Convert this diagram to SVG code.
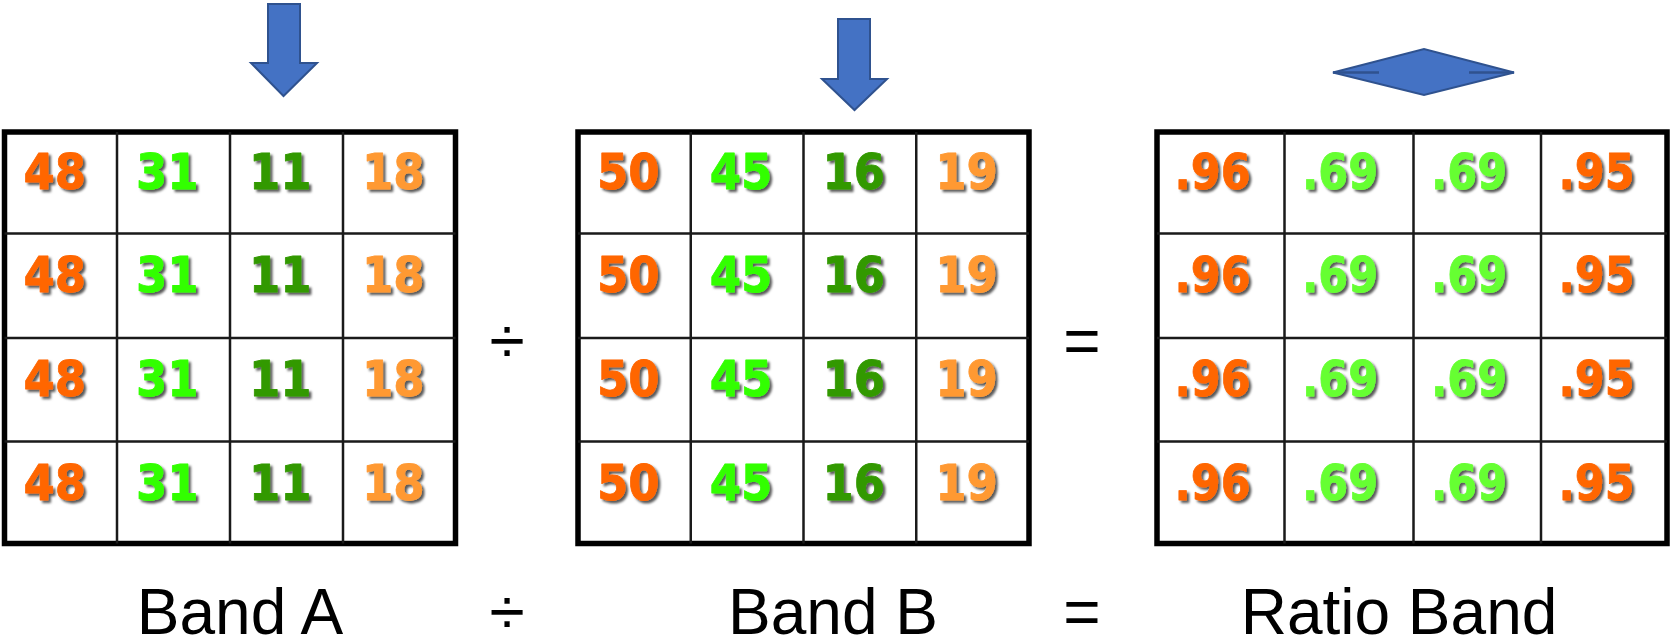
<svg xmlns="http://www.w3.org/2000/svg" width="1670" height="641" viewBox="0 0 1670 641">
  <defs>
    <filter id="shadow" x="-10%" y="-10%" width="130%" height="140%">
      <feDropShadow dx="2.5" dy="2.5" stdDeviation="0.9" flood-color="#000" flood-opacity="0.65"/>
    </filter>
  </defs>
  <style>
    .frame { fill: #fff; stroke: #000; stroke-width: 5.5; }
    .rule { stroke: #1a1a1a; stroke-width: 2.5; fill: none; }
    .v { font-family: "DejaVu Sans", Verdana, sans-serif; font-weight: bold; font-size: 50px; filter: url(#shadow); stroke-width: 0.8; stroke-linejoin: round; }
    .c1 { fill: #ff6600; stroke: #ff6600; }
    .c2 { fill: #33ff00; stroke: #33ff00; }
    .c2b { fill: #66ff33; stroke: #66ff33; }
    .c3 { fill: #339900; stroke: #339900; }
    .c4 { fill: #ff9933; stroke: #ff9933; }
    .lbl { font-family: "Liberation Sans", Arial, sans-serif; font-size: 64px; fill: #000; text-anchor: middle; }
    .arrow { fill: #4472c4; stroke: #2f528f; stroke-width: 2; stroke-linejoin: miter; }
  </style>

  <!-- pointers above the grids -->
  <g id="pointers">
    <polygon class="arrow" points="268,4 300,4 300,63 317,63 283.5,96 251,63 268,63"/>
    <polygon class="arrow" points="838,19 870,19 870,79 887,79 854.5,110 822,79 838,79"/>
    <g id="double-arrow">
      <polygon class="arrow" points="1333,72.5 1424,49 1514,72.5 1424,95"/>
      <line x1="1333" y1="72.5" x2="1379" y2="72.5" stroke="#2f528f" stroke-width="2.5"/>
      <line x1="1469" y1="72.5" x2="1514" y2="72.5" stroke="#2f528f" stroke-width="2.5"/>
    </g>
  </g>

  <!-- Band A -->
  <g id="band-a">
    <rect class="frame" x="4.5" y="132" width="451" height="411.5"/>
    <path class="rule" d="M117 132V543.5M230 132V543.5M343 132V543.5M4.5 233.5H455.5M4.5 338H455.5M4.5 441.5H455.5"/>
    <g class="v">
      <text class="c1" x="23.5" y="189" textLength="62.6" lengthAdjust="spacingAndGlyphs">48</text>
      <text class="c2" x="136" y="189" textLength="62.6" lengthAdjust="spacingAndGlyphs">31</text>
      <text class="c3" x="249" y="189" textLength="62.6" lengthAdjust="spacingAndGlyphs">11</text>
      <text class="c4" x="362" y="189" textLength="62.6" lengthAdjust="spacingAndGlyphs">18</text>
      <text class="c1" x="23.5" y="292" textLength="62.6" lengthAdjust="spacingAndGlyphs">48</text>
      <text class="c2" x="136" y="292" textLength="62.6" lengthAdjust="spacingAndGlyphs">31</text>
      <text class="c3" x="249" y="292" textLength="62.6" lengthAdjust="spacingAndGlyphs">11</text>
      <text class="c4" x="362" y="292" textLength="62.6" lengthAdjust="spacingAndGlyphs">18</text>
      <text class="c1" x="23.5" y="396" textLength="62.6" lengthAdjust="spacingAndGlyphs">48</text>
      <text class="c2" x="136" y="396" textLength="62.6" lengthAdjust="spacingAndGlyphs">31</text>
      <text class="c3" x="249" y="396" textLength="62.6" lengthAdjust="spacingAndGlyphs">11</text>
      <text class="c4" x="362" y="396" textLength="62.6" lengthAdjust="spacingAndGlyphs">18</text>
      <text class="c1" x="23.5" y="500" textLength="62.6" lengthAdjust="spacingAndGlyphs">48</text>
      <text class="c2" x="136" y="500" textLength="62.6" lengthAdjust="spacingAndGlyphs">31</text>
      <text class="c3" x="249" y="500" textLength="62.6" lengthAdjust="spacingAndGlyphs">11</text>
      <text class="c4" x="362" y="500" textLength="62.6" lengthAdjust="spacingAndGlyphs">18</text>
    </g>
  </g>

  <!-- Band B -->
  <g id="band-b">
    <rect class="frame" x="578" y="132" width="451" height="411.5"/>
    <path class="rule" d="M690.75 132V543.5M803.5 132V543.5M916.25 132V543.5M578 233.5H1029M578 338H1029M578 441.5H1029"/>
    <g class="v">
      <text class="c1" x="597" y="189" textLength="62.6" lengthAdjust="spacingAndGlyphs">50</text>
      <text class="c2" x="709.75" y="189" textLength="62.6" lengthAdjust="spacingAndGlyphs">45</text>
      <text class="c3" x="822.5" y="189" textLength="62.6" lengthAdjust="spacingAndGlyphs">16</text>
      <text class="c4" x="935.25" y="189" textLength="62.6" lengthAdjust="spacingAndGlyphs">19</text>
      <text class="c1" x="597" y="292" textLength="62.6" lengthAdjust="spacingAndGlyphs">50</text>
      <text class="c2" x="709.75" y="292" textLength="62.6" lengthAdjust="spacingAndGlyphs">45</text>
      <text class="c3" x="822.5" y="292" textLength="62.6" lengthAdjust="spacingAndGlyphs">16</text>
      <text class="c4" x="935.25" y="292" textLength="62.6" lengthAdjust="spacingAndGlyphs">19</text>
      <text class="c1" x="597" y="396" textLength="62.6" lengthAdjust="spacingAndGlyphs">50</text>
      <text class="c2" x="709.75" y="396" textLength="62.6" lengthAdjust="spacingAndGlyphs">45</text>
      <text class="c3" x="822.5" y="396" textLength="62.6" lengthAdjust="spacingAndGlyphs">16</text>
      <text class="c4" x="935.25" y="396" textLength="62.6" lengthAdjust="spacingAndGlyphs">19</text>
      <text class="c1" x="597" y="500" textLength="62.6" lengthAdjust="spacingAndGlyphs">50</text>
      <text class="c2" x="709.75" y="500" textLength="62.6" lengthAdjust="spacingAndGlyphs">45</text>
      <text class="c3" x="822.5" y="500" textLength="62.6" lengthAdjust="spacingAndGlyphs">16</text>
      <text class="c4" x="935.25" y="500" textLength="62.6" lengthAdjust="spacingAndGlyphs">19</text>
    </g>
  </g>

  <!-- Ratio Band -->
  <g id="ratio-band">
    <rect class="frame" x="1157" y="132" width="510" height="411.5"/>
    <path class="rule" d="M1284.5 132V543.5M1413.5 132V543.5M1541 132V543.5M1157 233.5H1667M1157 338H1667M1157 441.5H1667"/>
    <g class="v">
      <text class="c1" x="1174.5" y="189" textLength="76" lengthAdjust="spacingAndGlyphs">.96</text>
      <text class="c2b" x="1302" y="189" textLength="76" lengthAdjust="spacingAndGlyphs">.69</text>
      <text class="c2b" x="1431" y="189" textLength="76" lengthAdjust="spacingAndGlyphs">.69</text>
      <text class="c1" x="1558.5" y="189" textLength="76" lengthAdjust="spacingAndGlyphs">.95</text>
      <text class="c1" x="1174.5" y="292" textLength="76" lengthAdjust="spacingAndGlyphs">.96</text>
      <text class="c2b" x="1302" y="292" textLength="76" lengthAdjust="spacingAndGlyphs">.69</text>
      <text class="c2b" x="1431" y="292" textLength="76" lengthAdjust="spacingAndGlyphs">.69</text>
      <text class="c1" x="1558.5" y="292" textLength="76" lengthAdjust="spacingAndGlyphs">.95</text>
      <text class="c1" x="1174.5" y="396" textLength="76" lengthAdjust="spacingAndGlyphs">.96</text>
      <text class="c2b" x="1302" y="396" textLength="76" lengthAdjust="spacingAndGlyphs">.69</text>
      <text class="c2b" x="1431" y="396" textLength="76" lengthAdjust="spacingAndGlyphs">.69</text>
      <text class="c1" x="1558.5" y="396" textLength="76" lengthAdjust="spacingAndGlyphs">.95</text>
      <text class="c1" x="1174.5" y="500" textLength="76" lengthAdjust="spacingAndGlyphs">.96</text>
      <text class="c2b" x="1302" y="500" textLength="76" lengthAdjust="spacingAndGlyphs">.69</text>
      <text class="c2b" x="1431" y="500" textLength="76" lengthAdjust="spacingAndGlyphs">.69</text>
      <text class="c1" x="1558.5" y="500" textLength="76" lengthAdjust="spacingAndGlyphs">.95</text>
    </g>
  </g>

  <!-- operators between the grids -->
  <g id="operators">
    <text class="lbl" x="507" y="363">÷</text>
    <text class="lbl" x="1082" y="363">=</text>
  </g>

  <!-- captions -->
  <g id="captions">
    <text class="lbl" x="240" y="634">Band A</text>
    <text class="lbl" x="507" y="634">÷</text>
    <text class="lbl" x="833" y="634">Band B</text>
    <text class="lbl" x="1082" y="634">=</text>
    <text class="lbl" x="1399" y="634">Ratio Band</text>
  </g>
</svg>
